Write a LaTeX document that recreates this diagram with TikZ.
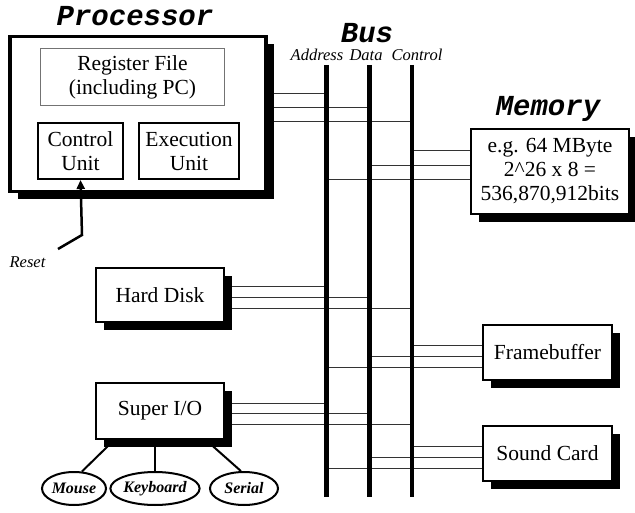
\documentclass[tikz,border=0pt]{standalone}
\usepackage{fontspec}
\setmainfont{Liberation Serif}
\newfontfamily\monof{Liberation Mono}
\usetikzlibrary{shadows,shapes.geometric,arrows.meta}
\begin{document}
\begin{tikzpicture}[x=1pt,y=-1pt,
  shad/.style={drop shadow={shadow xshift=8pt,shadow yshift=-8pt,fill=black,opacity=1}},
  box/.style={draw,line width=2.5pt,fill=white,inner sep=0pt,align=center,
     font=\fontsize{21.5}{24}\selectfont,shad},
  inbox/.style={draw,line width=2pt,fill=white,inner sep=0pt,align=center,
     font=\fontsize{21.5}{24}\selectfont},
  regbox/.style={draw=black!55,line width=1.2pt,fill=white,inner sep=0pt,align=center,
     font=\fontsize{21.5}{24}\selectfont},
  dev/.style={ellipse,draw,line width=2pt,fill=white,inner sep=0pt,
     font=\fontsize{16}{17}\selectfont\bfseries\itshape},
  ttl/.style={font=\monof\bfseries\itshape\fontsize{29}{30}\selectfont,inner sep=0pt},
  lbl/.style={font=\fontsize{16.5}{18}\selectfont\itshape,inner sep=0pt},
  wire/.style={draw=black!80,line width=1pt},
  link/.style={draw,line width=2pt},
  busline/.style={draw,line width=5pt}]
\useasboundingbox (0,0) rectangle (635,513);

% bus coordinates
\coordinate (A) at (326,65);  \coordinate (Ab) at (326,497);
\coordinate (D) at (369,65);  \coordinate (Db) at (369,497);
\coordinate (C) at (412,65);  \coordinate (Cb) at (412,497);

% box anchors for wires (named nodes defined first, then drawn later on top)
\path (138,114) node[minimum width=256pt,minimum height=155pt,inner sep=0pt] (procph) {};
\path (160,295) node[minimum width=128pt,minimum height=54pt,inner sep=0pt] (hdph) {};
\path (160,411) node[minimum width=128pt,minimum height=56pt,inner sep=0pt] (sioph) {};
\path (550,171.5) node[minimum width=158pt,minimum height=85pt,inner sep=0pt] (memph) {};
\path (547.5,352.5) node[minimum width=129pt,minimum height=55pt,inner sep=0pt] (fbph) {};
\path (547.5,453.5) node[minimum width=129pt,minimum height=55pt,inner sep=0pt] (scph) {};

% wires: processor
\draw[wire] (procph.east |- 0,94) -- (A |- 0,94);
\draw[wire] (procph.east |- 0,108) -- (D |- 0,108);
\draw[wire] (procph.east |- 0,122) -- (C |- 0,122);
% memory
\draw[wire] (C |- 0,151) -- (memph.west |- 0,151);
\draw[wire] (D |- 0,166) -- (memph.west |- 0,166);
\draw[wire] (A |- 0,180) -- (memph.west |- 0,180);
% hard disk
\draw[wire] (hdph.east |- 0,287) -- (A |- 0,287);
\draw[wire] (hdph.east |- 0,298) -- (D |- 0,298);
\draw[wire] (hdph.east |- 0,309) -- (C |- 0,309);
% framebuffer
\draw[wire] (C |- 0,345) -- (fbph.west |- 0,345);
\draw[wire] (D |- 0,356) -- (fbph.west |- 0,356);
\draw[wire] (A |- 0,367) -- (fbph.west |- 0,367);
% super io
\draw[wire] (sioph.east |- 0,403) -- (A |- 0,403);
\draw[wire] (sioph.east |- 0,413) -- (D |- 0,413);
\draw[wire] (sioph.east |- 0,424) -- (C |- 0,424);
% sound card
\draw[wire] (C |- 0,446) -- (scph.west |- 0,446);
\draw[wire] (D |- 0,457) -- (scph.west |- 0,457);
\draw[wire] (A |- 0,468) -- (scph.west |- 0,468);

% bus lines
\draw[busline] (A) -- (Ab);
\draw[busline] (D) -- (Db);
\draw[busline,line width=4pt] (C) -- (Cb);

% devices of super io
\node[dev,minimum width=64pt,minimum height=33pt] (mouse) at (74,488.5) {Mouse};
\node[dev,minimum width=69pt,minimum height=33pt] (kb) at (155,488.5) {Keyboard};
\node[dev,minimum width=68pt,minimum height=33pt] (serial) at (244,488.5) {Serial};
\draw[link] ([xshift=-45pt]sioph.south) -- (mouse.65);
\draw[link] (sioph.south -| kb.north) -- (kb.north);
\draw[link] ([xshift=45pt]sioph.south) -- (serial.100);

% boxes
\node[box,line width=3.5pt,minimum width=256pt,minimum height=155pt] (proc) at (138,114) {};
\node[regbox,minimum width=184pt,minimum height=57pt] (reg) at (132.5,77) {Register File\\(including PC)};
\node[inbox,minimum width=85pt,minimum height=56pt] (cu) at (80.5,151) {Control\\Unit};
\node[inbox,minimum width=100pt,minimum height=56pt] (eu) at (189,151) {Execution\\Unit};

\node[box,minimum width=128pt,minimum height=54pt] (hd) at (160,295) {Hard Disk};
\node[box,minimum width=128pt,minimum height=56pt] (sio) at (160,411) {Super I/O};
\node[box,minimum width=158pt,minimum height=85pt] (mem) at (550,171.5) {e.g. 64 MByte\\2\^{}26 x 8 =\\536,870,912bits};
\node[box,minimum width=129pt,minimum height=55pt] (fb) at (547.5,352.5) {Framebuffer};
\node[box,minimum width=129pt,minimum height=55pt] (sc) at (547.5,453.5) {Sound Card};

% reset
\coordinate (rs) at (58,249);
\coordinate (rb) at (82,235);
\draw[line width=2.5pt,-{Triangle[length=9pt,width=8pt]}] (rs) -- (rb) -- (cu.south);
\node[lbl] (reset) at (27.5,262) {Reset};

% titles
\node[ttl] (tproc) at (135,16) {Processor};
\node[ttl] (tbus) at (367,33) {Bus};
\node[ttl] (tmem) at (548,109) {Memory};
\node[lbl] (la) at (317,55) {Address};
\node[lbl] (ld) at (366,55) {Data};
\node[lbl] (lc) at (417,55) {Control};
\end{tikzpicture}
\end{document}
